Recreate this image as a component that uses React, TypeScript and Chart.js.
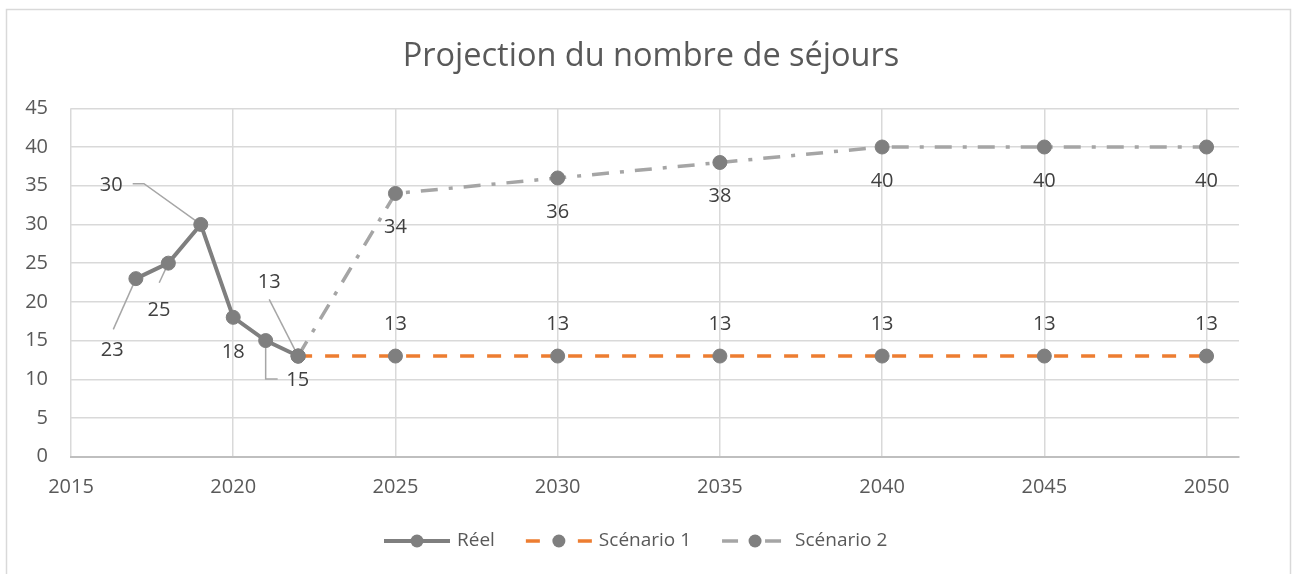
import { useEffect, useRef } from "react";
import { Chart, registerables } from "chart.js";

Chart.register(...registerables);

const TITLE = "Projection du nombre de séjours";
const seriesNames = ["Réel", "Scénario 1", "Scénario 2"];
const reelYears = [2017, 2018, 2019, 2020, 2021, 2022];
const reelValues = [23, 25, 30, 18, 15, 13];
const scenarioYears = [2022, 2025, 2030, 2035, 2040, 2045, 2050];
const scenario1Values = [13, 13, 13, 13, 13, 13, 13];
const scenario2Values = [13, 34, 36, 38, 40, 40, 40];
const xTickValues = [2015, 2020, 2025, 2030, 2035, 2040, 2045, 2050];
const yTickValues = [0, 5, 10, 15, 20, 25, 30, 35, 40, 45];

const FONT = "'Open Sans', 'Noto Sans', sans-serif";
const GREY_MARK = "#7f7f7f";
const GREY_LINE = "#a5a5a5";
const ORANGE = "#ed7d31";
const TEXT = "#595959";
const LABEL = "#404040";

// label placement (relative to each point) for the "Réel" series
const reelLabelPlacement: { dx: number; dy: number; leader: number[][] }[] = [
  { dx: -23.6, dy: 71.4, leader: [[-22.6, 50.7]] },
  { dx: -9.4, dy: 47, leader: [[-9.1, 19.6]] },
  { dx: -89.5, dy: -38.7, leader: [[-56.8, -40.7], [-68.1, -40.7]] },
  { dx: 0, dy: 35, leader: [] },
  { dx: 32, dy: 39.4, leader: [[0, 38.4], [12, 38.4]] },
  { dx: -28.9, dy: -73.7, leader: [[-28.9, -56.7]] },
];

const toPoints = (xs: number[], ys: number[]) => xs.map((x, i) => ({ x, y: ys[i] }));

const framePlugin = {
  id: "frame",
  beforeDraw(chart: any) {
    const { ctx } = chart;
    ctx.save();
    ctx.fillStyle = "#ffffff";
    ctx.fillRect(0, 0, chart.width, chart.height);
    ctx.strokeStyle = "#d9d9d9";
    ctx.lineWidth = 1.5;
    ctx.strokeRect(6.5, 9.5, 1284, 700);
    ctx.fillStyle = TEXT;
    ctx.font = `32.5px ${FONT}`;
    ctx.textAlign = "center";
    ctx.textBaseline = "alphabetic";
    ctx.fillText(TITLE, 651, 66);
    ctx.restore();
  },
};

const leaderPlugin = {
  id: "leaders",
  beforeDatasetsDraw(chart: any) {
    const { ctx } = chart;
    const meta = chart.getDatasetMeta(0);
    ctx.save();
    ctx.strokeStyle = "#a6a6a6";
    ctx.lineWidth = 1.5;
    meta.data.forEach((pt: any, i: number) => {
      const pl = reelLabelPlacement[i];
      if (!pl || pl.leader.length === 0) return;
      ctx.beginPath();
      ctx.moveTo(pt.x, pt.y);
      pl.leader.forEach(([dx, dy]) => ctx.lineTo(pt.x + dx, pt.y + dy));
      ctx.stroke();
    });
    ctx.restore();
  },
};

const labelPlugin = {
  id: "labels",
  afterDatasetsDraw(chart: any) {
    const { ctx } = chart;
    ctx.save();
    ctx.fillStyle = LABEL;
    ctx.font = `20px ${FONT}`;
    ctx.textAlign = "center";
    ctx.textBaseline = "middle";
    chart.getDatasetMeta(0).data.forEach((pt: any, i: number) => {
      const pl = reelLabelPlacement[i];
      ctx.fillText(String(reelValues[i]), pt.x + pl.dx, pt.y + pl.dy);
    });
    chart.getDatasetMeta(1).data.forEach((pt: any, i: number) => {
      if (i === 0) return;
      ctx.fillText(String(scenario1Values[i]), pt.x, pt.y - 32);
    });
    chart.getDatasetMeta(2).data.forEach((pt: any, i: number) => {
      if (i === 0) return;
      ctx.fillText(String(scenario2Values[i]), pt.x, pt.y + 34);
    });
    ctx.restore();
  },
};

const legendPlugin = {
  id: "customLegend",
  afterDraw(chart: any) {
    const { ctx } = chart;
    const y = 541;
    const sampleW = 66;
    const styles = [
      { color: GREY_MARK, dash: [] as number[], width: 4 },
      { color: ORANGE, dash: [14, 38], width: 3.5 },
      { color: GREY_LINE, dash: [16, 27], width: 3.5 },
    ];
    let x = 384;
    ctx.save();
    ctx.font = `19px ${FONT}`;
    ctx.textBaseline = "middle";
    ctx.textAlign = "left";
    chart.data.datasets.forEach((ds: any, i: number) => {
      const st = styles[i];
      ctx.strokeStyle = st.color;
      ctx.lineWidth = st.width;
      ctx.setLineDash(st.dash);
      ctx.beginPath();
      ctx.moveTo(x, y);
      ctx.lineTo(x + sampleW, y);
      ctx.stroke();
      ctx.setLineDash([]);
      ctx.fillStyle = GREY_MARK;
      ctx.beginPath();
      ctx.arc(x + sampleW / 2, y, 6.5, 0, Math.PI * 2);
      ctx.fill();
      ctx.fillStyle = TEXT;
      const tx = x + sampleW + 7;
      ctx.fillText(ds.label, tx, y);
      x = tx + ctx.measureText(ds.label).width + 31;
    });
    ctx.restore();
  },
};

export default function App() {
  const ref = useRef<HTMLCanvasElement>(null);
  useEffect(() => {
    const canvas = ref.current;
    if (!canvas) return;
    const common = {
      pointRadius: 7,
      pointHoverRadius: 7,
      pointBackgroundColor: GREY_MARK,
      pointBorderColor: GREY_MARK,
      pointBorderWidth: 1,
      fill: false,
      tension: 0,
    };
    const chart = new Chart(canvas, {
      type: "line",
      data: {
        datasets: [
          {
            ...common,
            label: seriesNames[0],
            data: toPoints(reelYears, reelValues),
            borderColor: GREY_MARK,
            borderWidth: 4,
          },
          {
            ...common,
            label: seriesNames[1],
            data: toPoints(scenarioYears, scenario1Values),
            borderColor: ORANGE,
            borderWidth: 3.5,
            borderDash: [14, 13],
          },
          {
            ...common,
            label: seriesNames[2],
            data: toPoints(scenarioYears, scenario2Values),
            borderColor: GREY_LINE,
            borderWidth: 3.5,
            borderDash: [17, 11, 4, 11],
          },
        ] as any,
      },
      options: {
        responsive: false,
        animation: false,
        devicePixelRatio: 1,
        layout: { padding: { top: 108.3, right: 54, bottom: 77.3, left: 0 } },
        plugins: {
          legend: { display: false },
          title: { display: false },
          tooltip: { enabled: false },
        },
        scales: {
          x: {
            type: "linear",
            min: 2015,
            max: 2051,
            afterBuildTicks: (scale: any) => {
              scale.ticks = xTickValues.map((v) => ({ value: v }));
            },
            afterFit: (scale: any) => {
              scale.height = 40;
            },
            grid: { color: "#d9d9d9", lineWidth: 1.5, drawTicks: false },
            border: { display: true, color: "#bfbfbf", width: 2 },
            ticks: {
              color: TEXT,
              font: { family: FONT, size: 20 },
              padding: 19,
              maxRotation: 0,
              autoSkip: false,
              callback: (v: any) => String(v),
            },
          },
          y: {
            type: "linear",
            min: 0,
            max: 45,
            afterBuildTicks: (scale: any) => {
              scale.ticks = yTickValues.map((v) => ({ value: v }));
            },
            afterFit: (scale: any) => {
              scale.width = 71;
            },
            grid: { color: "#d9d9d9", lineWidth: 1.5, drawTicks: false },
            border: { display: false },
            ticks: {
              color: TEXT,
              font: { family: FONT, size: 20 },
              padding: 23,
              autoSkip: false,
            },
          },
        },
      } as any,
      plugins: [framePlugin, leaderPlugin, labelPlugin, legendPlugin],
    });
    return () => chart.destroy();
  }, []);
  return (
    <div style={{ position: "absolute", left: 0, top: 0, width: 1293, height: 574, background: "#fff" }}>
      <canvas ref={ref} width={1293} height={574} style={{ display: "block", width: 1293, height: 574 }} />
    </div>
  );
}
